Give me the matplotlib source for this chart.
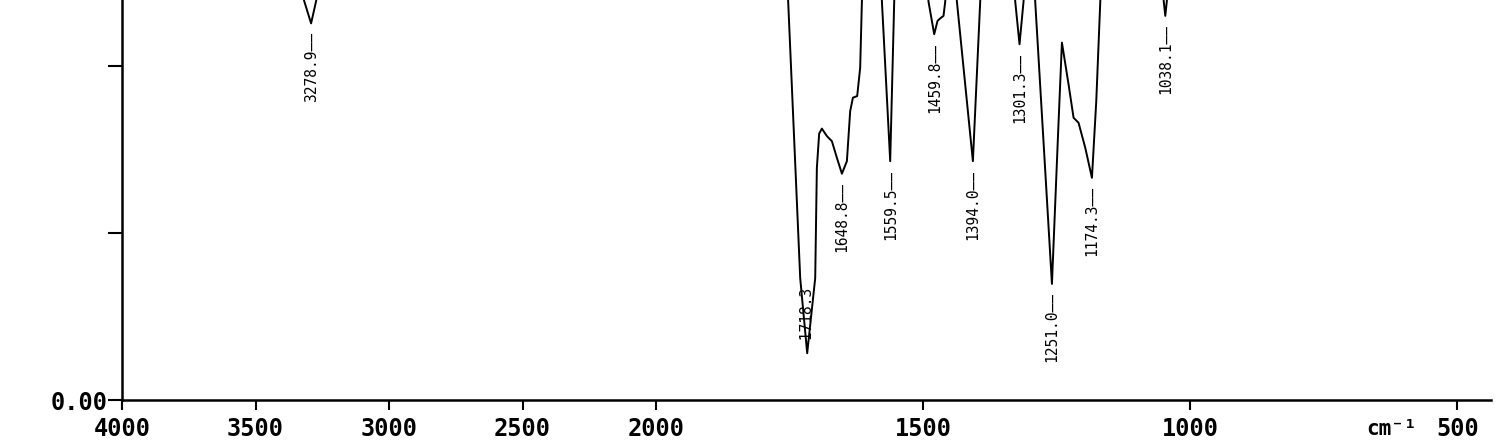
import matplotlib
matplotlib.use('Agg')
import matplotlib.pyplot as plt
import numpy as np

# IR spectrum (transmittance)
wavenumber = [4000, 3600, 3400, 3345, 3318, 3292, 3273, 3245, 3100, 2600, 2000,
              1800, 1758, 1752.8, 1730.3, 1717.2, 1702.2, 1699.1, 1694.8, 1689.7, 1680.3,
              1671.0, 1661.6, 1652.2, 1642.9, 1636.7, 1631.6, 1623.6, 1618.0, 1614.8,
              1611, 1590, 1580, 1577.3, 1561.8, 1554.3, 1551, 1500, 1493, 1490.1, 1479.4,
              1473.2, 1468.2, 1462.0, 1458.8, 1456, 1441, 1436.9, 1407.0, 1393.3, 1390,
              1332, 1327.7, 1319.7, 1312.2, 1309, 1294, 1290.3, 1259.0, 1247.5, 1240.3,
              1227.9, 1218.5, 1209.2, 1196.6, 1184.1, 1176.0, 1168.5, 1165, 1070, 1053,
              1049.6, 1046.8, 1044.0, 1040, 900, 600, 437]
transmittance = [60, 60, 58, 54, 47.8, 45.1, 47.8, 54, 58, 59, 59,
                 58, 56, 47.7, 14.6, 5.6, 14.6, 27.8, 31.9, 32.5, 31.6,
                 31.0, 29.0, 27.1, 28.6, 34.6, 36.2, 36.4, 39.8, 47.7,
                 54, 55, 54, 47.7, 28.6, 47.7, 54, 54, 51, 47.7, 43.8,
                 45.4, 45.7, 46.0, 47.7, 51, 51, 47.7, 28.6, 47.7, 53,
                 53, 47.7, 42.6, 47.7, 51, 53, 47.7, 13.9, 31.9, 42.8,
                 37.8, 33.8, 33.2, 30.2, 26.6, 35.8, 47.7, 54, 55, 51,
                 47.7, 46.0, 47.7, 51, 57, 58, 58]

peaks = [3292, 1717.2, 1652.2, 1561.8, 1479.4, 1407.0, 1319.7, 1259.0, 1184.1, 1046.8]
peak_labels = ['3278.9', '1718.3', '1648.8', '1559.5', '1459.8', '1394.0',
               '1301.3', '1251.0', '1174.3', '1038.1']

x_ticks = [4000, 3500, 3000, 2500, 2000, 1500, 1000, 500]
y_ticks = [0, 20, 40]
y_tick_labels = ['0.00', '', '']


# scale doubles below 2000 cm-1
def fwd(x):
    x = np.asarray(x, dtype=float)
    return np.where(x <= 2000, 2 * x, x + 2000)


def inv(u):
    u = np.asarray(u, dtype=float)
    return np.where(u <= 4000, u / 2, u - 2000)


plt.rcParams['font.family'] = ['DejaVu Sans Mono', 'DejaVu Sans']

W, H = 1501, 447
fig = plt.figure(figsize=(W / 100, H / 100), dpi=100)
ax = fig.add_axes([122 / W, 1 - 400 / H, (1491 - 122) / W, 400 / H])
ax.set_xscale('function', functions=(fwd, inv))

ax.plot(wavenumber, transmittance, color='black', lw=1.4)
ax.set_xlim(4000, 437)
ax.set_ylim(0, 47.9)

tvals = dict(zip(wavenumber, transmittance))
for p, lab in zip(peaks, peak_labels):
    if lab == '1718.3':
        ax.annotate('\u2014' + lab, (p, tvals[p]), xytext=(0, 3), textcoords='offset points',
                    rotation=90, ha='center', va='bottom', fontsize=10.5)
    else:
        ax.annotate(lab + '\u2014\u2014', (p, tvals[p]), xytext=(0, -6), textcoords='offset points',
                    rotation=90, ha='center', va='top', fontsize=10.5)

ax.spines['top'].set_visible(False)
ax.spines['right'].set_visible(False)
for s in ['left', 'bottom']:
    ax.spines[s].set_linewidth(1.8)

ax.set_xticks(x_ticks)
ax.set_xticklabels([str(t) for t in x_ticks])
ax.set_xticks([2000], minor=True)
ax.tick_params(axis='x', which='major', direction='out', length=7, width=1.5,
               pad=5, labelsize=17)
ax.tick_params(axis='x', which='minor', direction='in', length=6, width=1.5)
ax.set_yticks(y_ticks)
ax.set_yticklabels(y_tick_labels)
ax.tick_params(axis='y', direction='out', length=10, width=1.5, pad=0, labelsize=17)
for t in ax.get_xticklabels() + ax.get_yticklabels():
    t.set_fontweight('bold')

fig.text(1391 / W, 1 - 429 / H, 'cm\u207b\u00b9', ha='center', va='center',
         fontsize=15, fontweight='bold')

fig.savefig('out.png', dpi=100, facecolor='white')
